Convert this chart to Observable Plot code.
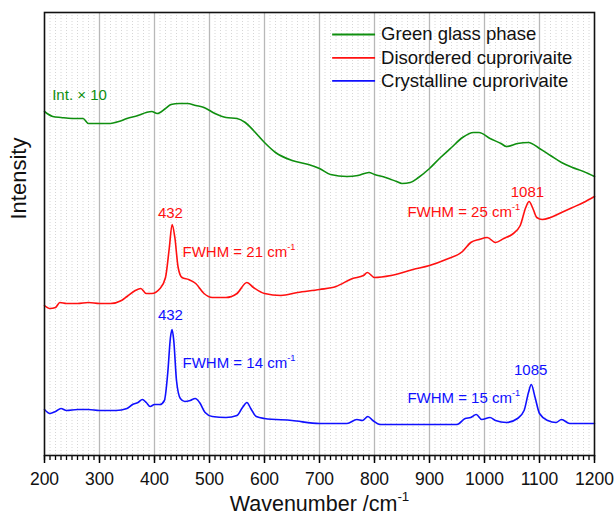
<!DOCTYPE html>
<html>
<head>
<meta charset="utf-8">
<script src="https://cdn.jsdelivr.net/npm/d3@7"></script>
<script src="https://cdn.jsdelivr.net/npm/@observablehq/plot@0.6"></script>
<style>
  html, body { margin: 0; padding: 0; background: #fff; }
  #chart { width: 614px; height: 516px; }
  svg { font-family: "Liberation Sans", Arial, sans-serif; }
</style>
</head>
<body>
<div id="chart"></div>
<script>
// ---- data (arbitrary intensity units, stacked offsets as in the figure) ----
const seriesNames = ["Green glass phase", "Disordered cuprorivaite", "Crystalline cuprorivaite"];
const seriesColors = ["#0f8f0f", "#ff1010", "#1010ff"];

const greenWn = [200,215,230,250,270,280,300,320,335,350,370,385,395,405,420,430,445,460,475,490,510,530,550,565,580,600,620,650,680,700,720,750,770,790,800,820,840,850,865,880,900,920,940,960,980,990,1010,1030,1040,1060,1080,1100,1120,1140,1160,1180,1200];
const greenInt = [344,339,338,337,337,332,332,332,334,337,340,343,344,342,347,351,352,352,350,348,342,338,337,333,325,313,303,295,291,287,281,279,280,283,281,278,274,272,273,278,287,298,308,318,323,323,317,312,309,312,313,307,300,293,288,284,279];

const redWn = [200,210,220,228,240,260,280,300,320,340,350,365,375,385,395,410,420,427,432,437,443,450,462,475,490,505,530,550,568,580,600,630,660,700,730,760,780,787,800,830,870,900,930,960,975,990,1005,1020,1035,1050,1065,1075,1081,1088,1095,1105,1120,1140,1160,1180,1200];
const redInt = [150,147,148,153,152,152,153,152,152,155,159,165,167,162,162,167,178,208,231,218,188,178,176,172,162,158,158,162,173,168,162,160,163,166,169,177,180,183,178,180,186,190,196,204,213,216,218,213,217,221,230,248,254,247,238,236,238,243,248,253,259];

const blueWn = [200,210,220,230,240,260,280,300,330,350,360,370,378,385,392,400,410,418,424,429,432,435,440,447,455,465,474,482,492,505,530,550,560,568,575,585,600,650,700,750,768,778,788,797,810,850,900,950,965,975,985,995,1010,1020,1040,1060,1072,1080,1085,1092,1100,1115,1130,1140,1155,1200];
const blueInt = [46,42,44,47,45,46,46,45,45,47,51,53,56,53,49,51,51,55,82,118,126,115,75,57,54,55,57,53,43,39,38,40,48,53,47,39,37,35,32,32,36,35,39,35,31,31,31,31,37,38,41,36,38,35,33,37,45,63,71,58,42,35,33,36,32,32];

const majorTicks = [200,300,400,500,600,700,800,900,1000,1100,1200];

// annotation texts (peak labels and widths)
const annoText = ["432", "FWHM = 21 cm-1", "1081", "FWHM = 25 cm-1", "432", "FWHM = 14 cm-1", "1085", "FWHM = 15 cm-1", "Int. × 10"];
const annoSeries = [1, 1, 1, 1, 2, 2, 2, 2, 0];

// ---- layout (positions in data units, kept apart from the data) ----
const annoX = [429, 451, 1078, 1065, 429, 451, 1084, 1065, 214];
const annoY = [242, 203, 263, 243, 140, 92, 85, 57, 360];
const annoAnchor = ["middle", "start", "middle", "end", "middle", "start", "middle", "end", "start"];
const legendRowY = [421, 397.6, 374.6];
const legendX1 = 723, legendX2 = 801, legendTextX = 812;

// ---- build tables ----
const rows = [];
[[greenWn, greenInt, 0], [redWn, redInt, 1], [blueWn, blueInt, 2]].forEach(([w, v, s]) => {
  w.forEach((x, i) => rows.push({ wn: x, intensity: v[i], series: seriesNames[s] }));
});
const annos = annoText.map((t, i) => ({ text: t, x: annoX[i], y: annoY[i], anchor: annoAnchor[i], series: seriesNames[annoSeries[i]] }));
const legend = seriesNames.map((n, i) => ({ name: n, y: legendRowY[i] }));

const minorTicks = d3.range(200, 1201, 10);

const annoMarks = ["start", "middle", "end"].map(a =>
  Plot.text(annos.filter(d => d.anchor === a), { x: "x", y: "y", text: "text", fill: "series", textAnchor: a, fontSize: 15, lineAnchor: "middle" })
);

const chart = Plot.plot({
  width: 614,
  height: 516,
  marginLeft: 44,
  marginRight: 20,
  marginTop: 12,
  marginBottom: 61,
  style: { fontFamily: "'Liberation Sans', Arial, sans-serif", background: "#fff" },
  x: { domain: [200, 1200] },
  y: { domain: [0, 443], axis: null },
  color: { domain: seriesNames, range: seriesColors },
  marks: [
    Plot.gridX(minorTicks, { stroke: "#d6d6d6", strokeOpacity: 1, strokeWidth: 1, strokeDasharray: "1,2" }),
    Plot.gridX(majorTicks.slice(1, -1), { stroke: "#b8b8b8", strokeOpacity: 1, strokeWidth: 1.3 }),
    Plot.axisX({ ticks: minorTicks, tickSize: 5, tickFormat: () => "", label: null, strokeWidth: 1.3 }),
    Plot.axisX({ ticks: majorTicks, tickSize: 8, tickPadding: 9, fontSize: 17.5, label: null, strokeWidth: 1.5, tickFormat: d => String(d), fill: "#111" }),
    Plot.line(rows, { x: "wn", y: "intensity", z: "series", stroke: "series", strokeWidth: 1.6, curve: "monotone-x" }),
    ...annoMarks,
    // legend
    Plot.link(legend, { x1: () => legendX1, x2: () => legendX2, y1: "y", y2: "y", stroke: "name", strokeWidth: 1.8 }),
    Plot.text(legend, { x: () => legendTextX, y: "y", text: "name", textAnchor: "start", fontSize: 18.5, fill: "#111", lineAnchor: "middle" }),
    // axis titles
    Plot.text(["Wavenumber /cm-1"], { frameAnchor: "bottom", dy: 55, lineAnchor: "bottom", fontSize: 21.5, fill: "#111" }),
    Plot.text(["Intensity"], { frameAnchor: "left", rotate: -90, dx: -25.5, dy: -14.5, fontSize: 22, fill: "#111" }),
    Plot.frame({ stroke: "#111", strokeWidth: 1.6 })
  ]
});

// superscript for "cm-1"
chart.querySelectorAll("text").forEach(t => {
  const s = t.textContent;
  if (s.endsWith("cm-1") && t.children.length === 0) {
    t.textContent = s.slice(0, -2);
    const sup = document.createElementNS("http://www.w3.org/2000/svg", "tspan");
    sup.setAttribute("font-size", "0.62em");
    sup.setAttribute("dy", "-0.75em");
    sup.textContent = "-1";
    t.appendChild(sup);
  }
});

document.getElementById("chart").appendChild(chart);
</script>
</body>
</html>
